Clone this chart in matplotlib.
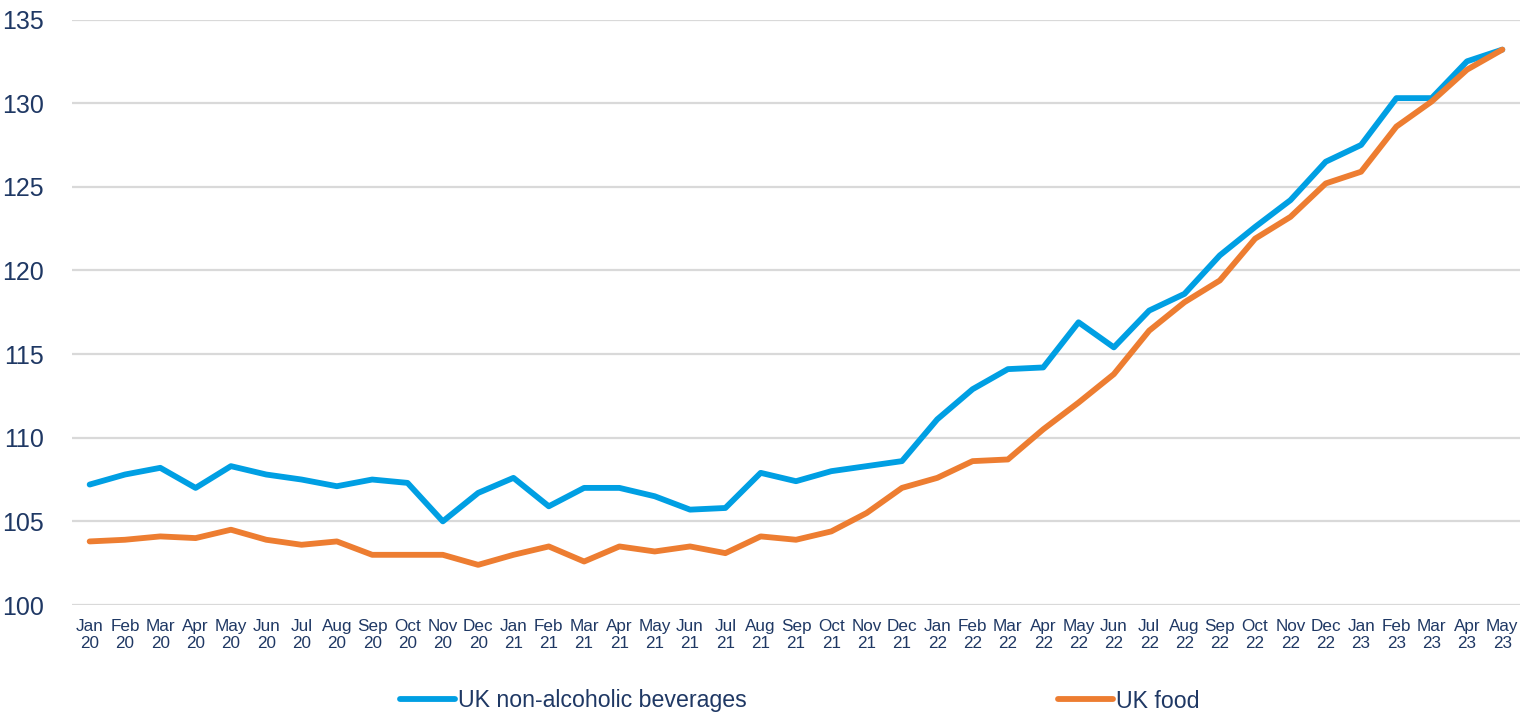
import matplotlib
matplotlib.use("Agg")
import matplotlib.pyplot as plt

# monthly index values, Jan 20 .. May 23
months = ["Jan", "Feb", "Mar", "Apr", "May", "Jun", "Jul", "Aug", "Sep", "Oct", "Nov", "Dec"]
labels = [f"{months[i % 12]}\n{20 + i // 12}" for i in range(41)]

beverages = [107.2, 107.8, 108.2, 107.0, 108.3, 107.8, 107.5, 107.1, 107.5, 107.3, 105.0, 106.7,
             107.6, 105.9, 107.0, 107.0, 106.5, 105.7, 105.8, 107.9, 107.4, 108.0, 108.3, 108.6,
             111.1, 112.9, 114.1, 114.2, 116.9, 115.4, 117.6, 118.6, 120.9, 122.6, 124.2, 126.5,
             127.5, 130.3, 130.3, 132.5, 133.2]
food = [103.8, 103.9, 104.1, 104.0, 104.5, 103.9, 103.6, 103.8, 103.0, 103.0, 103.0, 102.4,
        103.0, 103.5, 102.6, 103.5, 103.2, 103.5, 103.1, 104.1, 103.9, 104.4, 105.5, 107.0,
        107.6, 108.6, 108.7, 110.5, 112.1, 113.8, 116.4, 118.1, 119.4, 121.9, 123.2, 125.2,
        125.9, 128.6, 130.1, 132.0, 133.2]
yticks = [100, 105, 110, 115, 120, 125, 130, 135]

txt = "#1F3864"
plt.rcParams['font.family'] = ['Liberation Sans', 'DejaVu Sans']

fig = plt.figure(figsize=(15.31, 7.16), dpi=100)
ax = fig.add_axes([72 / 1531, 111 / 716, 1448 / 1531, 585.5 / 716])

x = list(range(len(labels)))
ax.plot(x, beverages, color="#009FE3", lw=4.2, solid_capstyle="round",
        label="UK non-alcoholic beverages", zorder=3)
ax.plot(x, food, color="#ED7D31", lw=4.2, solid_capstyle="round", label="UK food", zorder=3)

ax.set_xlim(-0.5, len(labels) - 0.5)
ax.set_ylim(100, 135)
ax.set_yticks(yticks)
ax.set_xticks(x)
ax.set_xticklabels(labels, linespacing=1.15)
ax.grid(axis="y", color="#D9D9D9", lw=1.6)
ax.set_axisbelow(True)
for s in ax.spines.values():
    s.set_visible(False)
ax.tick_params(axis="y", length=0, pad=20, labelsize=18, labelcolor=txt)
ax.tick_params(axis="x", length=0, pad=10, labelsize=12.3, labelcolor=txt)

fig.legend(loc="center", bbox_to_anchor=(800 / 1531, 15 / 716), ncol=2, frameon=False,
           fontsize=16.7, labelcolor=txt, handlelength=2.35, handletextpad=0.15, columnspacing=13.4)

fig.savefig("out.png", dpi=100)
